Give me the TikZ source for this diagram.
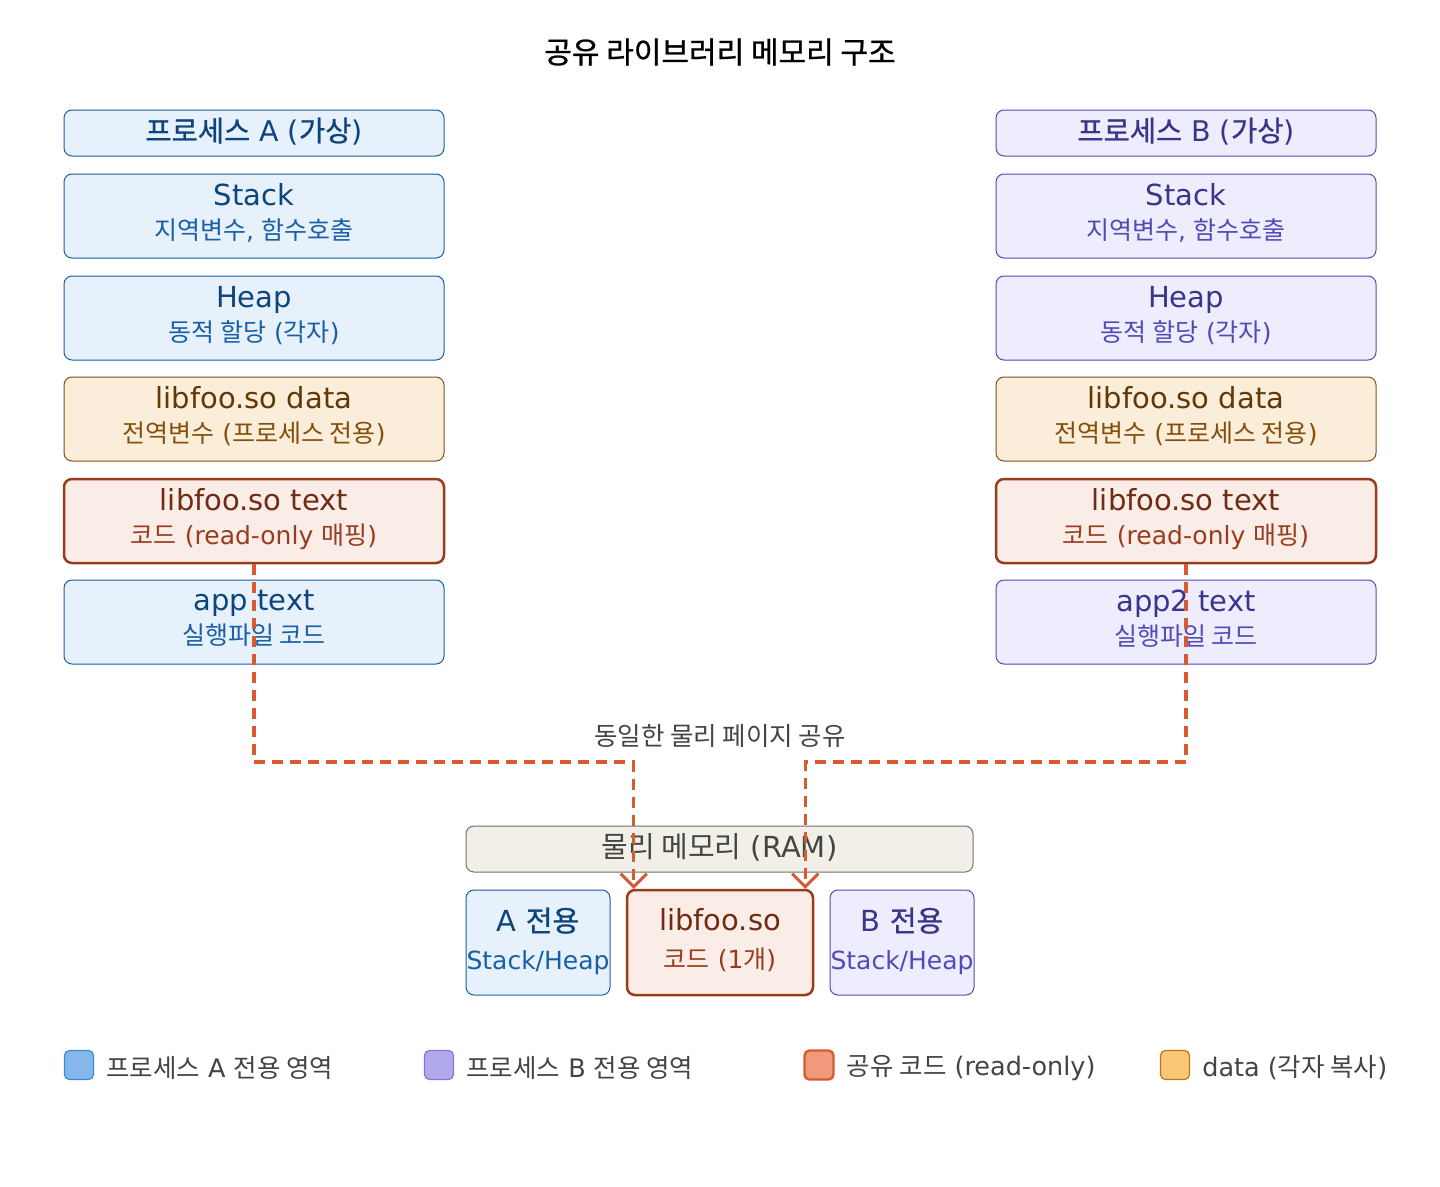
\documentclass[tikz,border=0pt]{standalone}
\usepackage{fontspec}
\setmainfont{DejaVu Sans}
\newfontfamily\krfont{Noto Sans CJK KR}
\newfontfamily\krsemi{Noto Sans CJK KR}[FakeBold=0.9]
\newcommand\kr[1]{{\krfont #1}}
\newcommand\krb[1]{{\krsemi #1}}
\newcommand\fsz[1]{\fontsize{#1}{#1}\selectfont}
\usetikzlibrary{positioning,arrows.meta}

% palette
\definecolor{aFill}{HTML}{E6F1FB}
\definecolor{aLine}{HTML}{185FA5}
\definecolor{aText}{HTML}{0C447C}
\definecolor{aSub}{HTML}{185FA5}
\definecolor{bFill}{HTML}{EEEDFE}
\definecolor{bLine}{HTML}{534AB7}
\definecolor{bText}{HTML}{3C3489}
\definecolor{bSub}{HTML}{534AB7}
\definecolor{dFill}{HTML}{FAEEDA}
\definecolor{dLine}{HTML}{854F0B}
\definecolor{dText}{HTML}{633806}
\definecolor{dSub}{HTML}{854F0B}
\definecolor{tFill}{HTML}{FAECE7}
\definecolor{tLine}{HTML}{993C1D}
\definecolor{tText}{HTML}{712B13}
\definecolor{tSub}{HTML}{993C1D}
\definecolor{share}{HTML}{D85A30}
\definecolor{ramFill}{HTML}{F1EFE8}
\definecolor{ramLine}{HTML}{73726C}
\definecolor{ink}{HTML}{444441}

\tikzset{
  box/.style={draw, rounded corners=8pt, line width=1pt, align=center,
    inner sep=0pt, minimum width=380pt, minimum height=84pt, text depth=9pt,
    font=\fontsize{29}{36}\selectfont},
  head/.style={box, minimum height=46pt, text depth=7pt, font=\fontsize{28.5}{32}\selectfont},
  procA/.style={fill=aFill, draw=aLine, text=aText},
  procB/.style={fill=bFill, draw=bLine, text=bText},
  libdata/.style={fill=dFill, draw=dLine, text=dText},
  libtext/.style={fill=tFill, draw=tLine, text=tText, line width=2.5pt},
  sharearrow/.style={draw=share, line width=3.4pt, dash pattern=on 11pt off 7pt,
    -{Straight Barb[length=13pt,width=26pt,line width=3pt]}},
  keybox/.style={rounded corners=5pt, line width=1.2pt, minimum size=29pt, inner sep=0pt},
  keytext/.style={text=ink, font=\fontsize{25.5}{28}\selectfont, anchor=west, inner sep=0pt, yshift=-3pt}
}
\newcommand\sub[2]{\\[-2pt]{\color{#1}\fontsize{25}{30}\selectfont #2}}

\begin{document}
\begin{tikzpicture}[x=1pt,y=-1pt]
  \useasboundingbox[fill=white] (0,0) rectangle (1440,1186);

  \node[text=black, font=\fsz{30}] (title) at (720,52) {\krb{공유 라이브러리 메모리 구조}};

  % process A
  \node[head, procA] (headA) at (254,133) {\krb{프로세스} A (\krb{가상})};
  \node[box, procA] (stackA) at (254,216) {Stack\sub{aSub}{\kr{지역변수}, \kr{함수호출}}};
  \node[box, procA] (heapA) at (254,318) {Heap\sub{aSub}{\kr{동적 할당} (\kr{각자})}};
  \node[box, libdata] (dataA) at (254,419) {libfoo.so data\sub{dSub}{\kr{전역변수} (\kr{프로세스 전용})}};
  \node[box, libtext] (textA) at (254,521) {libfoo.so text\sub{tSub}{\kr{코드} (read-only \kr{매핑})}};
  \node[box, procA] (appA) at (254,622) {app text\sub{aSub}{\kr{실행파일 코드}}};

  % process B
  \node[head, procB] (headB) at (1186,133) {\krb{프로세스} B (\krb{가상})};
  \node[box, procB] (stackB) at (1186,216) {Stack\sub{bSub}{\kr{지역변수}, \kr{함수호출}}};
  \node[box, procB] (heapB) at (1186,318) {Heap\sub{bSub}{\kr{동적 할당} (\kr{각자})}};
  \node[box, libdata] (dataB) at (1186,419) {libfoo.so data\sub{dSub}{\kr{전역변수} (\kr{프로세스 전용})}};
  \node[box, libtext] (textB) at (1186,521) {libfoo.so text\sub{tSub}{\kr{코드} (read-only \kr{매핑})}};
  \node[box, procB] (appB) at (1186,622) {app2 text\sub{bSub}{\kr{실행파일 코드}}};

  % physical memory
  \node[box, fill=ramFill, draw=ramLine, text=ink, minimum width=507pt, minimum height=46pt, text depth=7pt] (ram) at (719.5,849) {\kr{물리 메모리} (RAM)};
  \node[box, procA, minimum width=144pt, minimum height=105pt, text depth=8pt] (onlyA) at (538,942.5) {A \krb{전용}\\[2pt]{\color{aSub}\fontsize{25}{30}\selectfont Stack/Heap}};
  \node[box, libtext, minimum width=186pt, minimum height=105pt, text depth=8pt] (lib) at (720,942.5) {libfoo.so\\[2pt]{\color{tSub}\fontsize{25}{30}\selectfont\kr{코드} (1\kr{개})}};
  \node[box, procB, minimum width=144pt, minimum height=105pt, text depth=8pt] (onlyB) at (902,942.5) {B \krb{전용}\\[2pt]{\color{bSub}\fontsize{25}{30}\selectfont Stack/Heap}};

  % shared pages
  \node[text=ink, font=\fsz{25.5}] (shareLbl) at (720,736) {\kr{동일한 물리 페이지 공유}};
  \coordinate (inA) at ([xshift=8pt]lib.north west);
  \coordinate (inB) at ([xshift=-9pt]lib.north east);
  \coordinate (bus) at (720,762);
  \draw[sharearrow] (textA.south) |- (bus -| inA) -- (inA);
  \draw[sharearrow] (textB.south) |- (bus -| inB) -- (inB);

  % legend
  \node[keybox, fill={rgb,255:red,133;green,183;blue,235}, draw={rgb,255:red,55;green,138;blue,221}] (keyA) at (79,1065) {};
  \node[keytext, right=12pt of keyA] (keyAtxt) {\kr{프로세스} A \kr{전용 영역}};
  \node[keybox, fill={rgb,255:red,175;green,169;blue,236}, draw={rgb,255:red,127;green,119;blue,221}] (keyB) at (439,1065) {};
  \node[keytext, right=12pt of keyB] (keyBtxt) {\kr{프로세스} B \kr{전용 영역}};
  \node[keybox, fill={rgb,255:red,240;green,153;blue,123}, draw=share, line width=2.4pt] (keyT) at (819,1065) {};
  \node[keytext, right=12pt of keyT] (keyTtxt) {\kr{공유 코드} (read-only)};
  \node[keybox, fill={rgb,255:red,250;green,199;blue,117}, draw={rgb,255:red,186;green,117;blue,23}] (keyD) at (1175,1065) {};
  \node[keytext, right=12pt of keyD] (keyDtxt) {data (\kr{각자 복사})};
\end{tikzpicture}
\end{document}
